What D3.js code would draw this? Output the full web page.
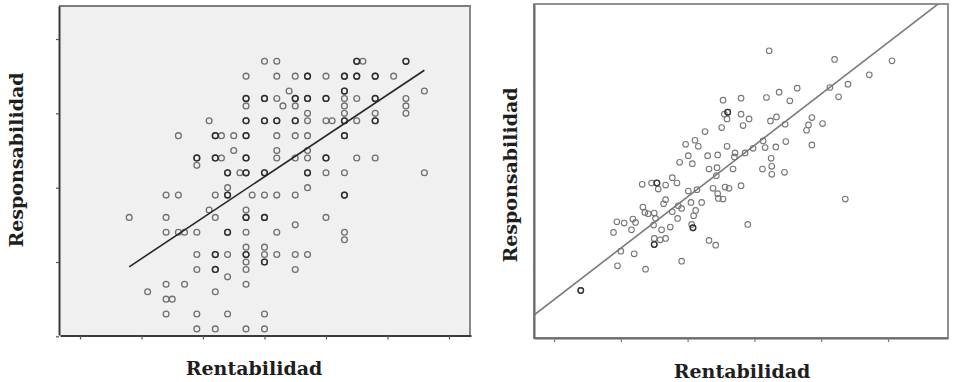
<!DOCTYPE html>
<html><head><meta charset="utf-8">
<script src="https://cdn.jsdelivr.net/npm/d3@7"></script>
<style>body{margin:0;background:#fff}svg{display:block}</style>
</head><body>
<svg id="c" width="953" height="382"></svg>
<script>
// ---------- data ----------
const xTitle = "Rentabilidad";
const yTitle = "Responsabilidad";

const leftXTicks = [20, 30, 40, 50, 60, 70, 80];
const leftYTicks = [10, 20, 30, 40, 50];
const leftPoints = [
  [50,47],[52,47],[65,47],[66,47],[73,47],
  [47,45],[52,45],[55,45],[57,45],[60,45],[63,45],[65,45],[68,45],[71,45],
  [54,43],[63,43],[76,43],
  [47,42],[50,42],[52,42],[55,42],[57,42],[60,42],[63,42],[65,42],[68,42],[73,42],
  [47,41],[53,41],[55,41],[63,41],[73,41],
  [57,40],[63,40],[68,40],[73,40],
  [41,39],[47,39],[50,39],[52,39],[55,39],[57,39],[60,39],[61,39],[63,39],[65,39],[68,39],
  [36,37],[42,37],[43,37],[45,37],[47,37],[52,37],[55,37],[57,37],[63,37],
  [45,35],[52,35],[57,35],
  [39,34],[42,34],[43,34],[47,34],[52,34],[55,34],[57,34],[60,34],[65,34],[68,34],
  [39,33],
  [44,32],[46,32],[47,32],[50,32],[57,32],[60,32],[63,32],[76,32],
  [44,30],[57,30],
  [34,29],[36,29],[42,29],[44,29],[48,29],[50,29],[52,29],[55,29],[63,29],
  [41,27],[47,27],
  [28,26],[34,26],[42,26],[47,26],[50,26],[60,26],
  [55,25],
  [34,24],[36,24],[37,24],[39,24],[44,24],[47,24],[52,24],[63,24],
  [63,23],
  [47,22],[50,22],
  [39,21],[42,21],[44,21],[47,21],[50,21],[52,21],[55,21],[57,21],
  [47,20],[50,20],
  [39,19],[42,19],[47,19],[55,19],
  [44,18],
  [34,17],[37,17],[47,17],
  [31,16],[42,16],
  [34,15],[35,15],
  [34,13],[39,13],[44,13],[50,13],
  [39,11],[42,11],[47,11],[50,11]
];
// values that occur more than once (drawn darker)
const leftRepeated = [
  [47,42],[50,42],[47,39],[50,39],[52,39],[42,37],[47,37],[39,34],[42,34],[47,34],
  [44,32],[47,32],[50,32],[65,47],[73,47],[57,45],[63,45],[65,45],[68,45],[63,43],
  [55,42],[57,42],[60,42],[68,42],[55,39],[63,39],[68,39],[63,37],[60,34],[57,32],
  [44,29],[47,26],[50,26],[44,24],[42,21],[47,21],[42,19],[50,20],[63,29]
];
const leftFit = [[28, 19.35], [76, 45.8]];

const rightXTicks = [2, 3, 4, 5, 6, 7];
const rightYTicks = [2, 3, 4, 5, 6];
const rightPoints = [
  [2.40,2.41],[2.89,3.28],[2.94,3.44],[2.95,2.78],[3.00,3.00],[3.05,3.42],[3.16,3.32],[3.18,3.48],[3.20,2.96],[3.22,3.43],
  [3.32,4.00],[3.33,3.66],[3.36,3.58],[3.37,2.73],[3.41,3.56],[3.46,4.02],[3.49,3.39],[3.50,3.57],[3.50,3.10],[3.50,3.19],
  [3.52,3.49],[3.54,4.02],[3.56,3.93],[3.59,3.17],[3.61,3.32],[3.64,3.71],[3.67,3.77],[3.67,3.19],[3.67,3.99],[3.74,3.36],
  [3.77,3.59],[3.77,4.10],[3.84,4.02],[3.85,3.49],[3.86,3.68],[3.88,4.33],[3.91,3.64],[3.91,2.85],[3.97,4.60],[4.01,4.43],
  [4.01,3.90],[4.05,3.73],[4.06,3.40],[4.07,4.31],[4.08,3.35],[4.09,3.53],[4.11,4.66],[4.12,3.61],[4.14,3.92],[4.16,4.57],
  [4.21,3.73],[4.26,4.79],[4.30,4.43],[4.32,4.23],[4.32,3.16],[4.38,3.94],[4.42,3.09],[4.43,4.13],[4.44,4.25],[4.45,4.44],
  [4.45,3.86],[4.46,3.79],[4.51,4.85],[4.53,3.78],[4.53,5.26],[4.55,5.05],[4.56,3.96],[4.59,4.57],[4.60,5.08],[4.59,4.98],
  [4.62,3.94],[4.68,4.23],[4.70,4.41],[4.71,4.47],[4.80,5.29],[4.80,5.05],[4.80,3.98],[4.83,4.88],[4.86,4.47],[4.90,3.40],
  [4.92,4.98],[4.98,4.54],[5.12,4.23],[5.13,4.65],[5.16,4.55],[5.18,5.30],[5.22,6.00],[5.24,4.95],[5.25,4.39],[5.26,4.27],
  [5.26,4.15],[5.33,5.01],[5.32,4.56],[5.37,5.38],[5.45,4.18],[5.46,4.90],[5.47,4.64],[5.53,5.25],[5.64,5.44],[5.78,4.81],
  [5.81,4.89],[5.86,4.59],[5.86,5.00],[6.02,4.91],[6.13,5.45],[6.20,5.87],[6.26,5.31],[6.36,3.78],[6.40,5.50],[6.72,5.64],
  [7.06,5.85]
];
const rightRepeated = [[2.40,2.41],[3.54,4.02],[3.50,3.10],[4.60,5.08],[4.08,3.35]];
const rightFit = [[1.70, 2.044], [7.90, 6.816]];

// ---------- drawing ----------
const svg = d3.select("#c");
const titleFont = "'DejaVu Serif', 'Liberation Serif', serif";

function addTitles(cx, by, yx, yy) {
  svg.append("text").attr("x", cx).attr("y", by)
    .attr("text-anchor", "middle").attr("font-family", titleFont)
    .attr("font-weight", "bold").attr("font-size", 19).attr("fill", "#1e1e1e")
    .text(xTitle);
  svg.append("text").attr("transform", `translate(${yx},${yy}) rotate(-90)`)
    .attr("text-anchor", "middle").attr("dominant-baseline", "central")
    .attr("font-family", titleFont)
    .attr("font-weight", "bold").attr("font-size", 19).attr("fill", "#1e1e1e")
    .text(yTitle);
}

// ----- left panel -----
{
  const L = {x0: 59, x1: 471, y0: 6, y1: 335.5};
  const x = d3.scaleLinear().domain([16.75, 83.58]).range([60, 471]);
  const y = d3.scaleLinear().domain([10.18, 54.44]).range([335, 6]);
  const g = svg.append("g");
  g.append("rect").attr("x", L.x0).attr("y", L.y0).attr("width", L.x1 - L.x0).attr("height", L.y1 - L.y0)
    .attr("fill", "#f0f0f0");
  g.append("line").attr("x1", L.x0).attr("x2", L.x1).attr("y1", L.y0).attr("y2", L.y0)
    .attr("stroke", "#7c7c7c").attr("stroke-width", 2);
  g.append("line").attr("x1", L.x1 - 1).attr("x2", L.x1 - 1).attr("y1", L.y0).attr("y2", L.y1)
    .attr("stroke", "#8a8a8a").attr("stroke-width", 2);

  const ax = g.append("g").attr("transform", `translate(0,${L.y1})`)
    .call(d3.axisBottom(x).tickValues(leftXTicks).tickSize(4).tickSizeOuter(0).tickFormat(""));
  const ay = g.append("g").attr("transform", `translate(${L.x0},0)`)
    .call(d3.axisLeft(y).tickValues(leftYTicks).tickSize(3).tickSizeOuter(0).tickFormat(""));
  [ax, ay].forEach(a => {
    a.select(".domain").attr("stroke", "#3a3a3a").attr("stroke-width", 2);
    a.selectAll(".tick line").attr("stroke", "#555").attr("stroke-width", 1.2);
  });

  g.selectAll("circle.p").data(leftPoints).join("circle").attr("class", "p")
    .attr("cx", d => x(d[0])).attr("cy", d => y(d[1])).attr("r", 2.9)
    .attr("fill", "none").attr("stroke", "#707070").attr("stroke-width", 1.3);
  g.selectAll("circle.r").data(leftRepeated).join("circle").attr("class", "r")
    .attr("cx", d => x(d[0])).attr("cy", d => y(d[1])).attr("r", 2.9)
    .attr("fill", "none").attr("stroke", "#2e2e2e").attr("stroke-width", 1.4);

  g.append("line").attr("x1", x(leftFit[0][0])).attr("y1", y(leftFit[0][1]))
    .attr("x2", x(leftFit[1][0])).attr("y2", y(leftFit[1][1]))
    .attr("stroke", "#262626").attr("stroke-width", 1.6);

  addTitles(254, 375, 16, 160);
}

// ----- right panel -----
{
  const R = {x0: 534, x1: 948, y0: 4, y1: 338};
  const x = d3.scaleLinear().domain([1.70, 7.898]).range([534, 948]);
  const y = d3.scaleLinear().domain([1.70, 6.70]).range([338, 4]);
  const g = svg.append("g");
  svg.append("defs").append("clipPath").attr("id", "rclip").append("rect")
    .attr("x", R.x0).attr("y", R.y0).attr("width", R.x1 - R.x0).attr("height", R.y1 - R.y0);
  g.append("rect").attr("x", R.x0).attr("y", R.y0).attr("width", R.x1 - R.x0).attr("height", R.y1 - R.y0)
    .attr("fill", "#fff").attr("stroke", "#858585").attr("stroke-width", 1.8);

  const ax = g.append("g").attr("transform", `translate(0,${R.y1})`)
    .call(d3.axisBottom(x).tickValues(rightXTicks).tickSize(4).tickSizeOuter(0).tickFormat(""));
  const ay = g.append("g").attr("transform", `translate(${R.x0},0)`)
    .call(d3.axisLeft(y).tickValues(rightYTicks).tickSize(0).tickSizeOuter(0).tickFormat(""));
  [ax, ay].forEach(a => {
    a.select(".domain").attr("stroke", "#6a6a6a").attr("stroke-width", 2);
    a.selectAll(".tick line").attr("stroke", "#777").attr("stroke-width", 1.2);
  });

  g.append("line").attr("clip-path", "url(#rclip)")
    .attr("x1", x(rightFit[0][0])).attr("y1", y(rightFit[0][1]))
    .attr("x2", x(rightFit[1][0])).attr("y2", y(rightFit[1][1]))
    .attr("stroke", "#7a7a7a").attr("stroke-width", 1.6);

  g.selectAll("circle.p").data(rightPoints).join("circle").attr("class", "p")
    .attr("cx", d => x(d[0])).attr("cy", d => y(d[1])).attr("r", 2.8)
    .attr("fill", "none").attr("stroke", "#777").attr("stroke-width", 1.1);
  g.selectAll("circle.r").data(rightRepeated).join("circle").attr("class", "r")
    .attr("cx", d => x(d[0])).attr("cy", d => y(d[1])).attr("r", 2.8)
    .attr("fill", "none").attr("stroke", "#333").attr("stroke-width", 1.3);

  addTitles(742, 378, 510, 175);
}
</script>
</body></html>
